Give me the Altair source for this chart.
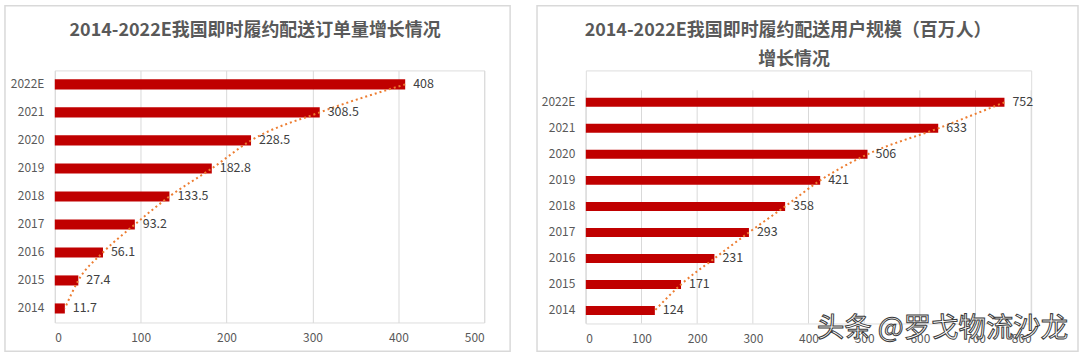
import altair as alt
import pandas as pd

years = ["2014", "2015", "2016", "2017", "2018", "2019", "2020", "2021", "2022E"]
orders = [11.7, 27.4, 56.1, 93.2, 133.5, 182.8, 228.5, 308.5, 408]
users = [124, 171, 231, 293, 358, 421, 506, 633, 752]
left_ticks = [0, 100, 200, 300, 400, 500]
right_ticks = [0, 100, 200, 300, 400, 500, 600, 700, 800]
title_left = ["2014-2022E我国即时履约配送订单量增长情况"]
title_right = ["2014-2022E我国即时履约配送用户规模（百万人）", "增长情况"]
watermark = "头条 @罗戈物流沙龙"

FONT = "Noto Sans CJK SC"
BAR = "#C00000"
TREND = "#ED7D31"
GRID = "#D9D9D9"
TEXT = "#595959"

one = pd.DataFrame({"k": [0]})


def title_marks(lines, positions):
    out = []
    for txt, (tx, ty) in zip(lines, positions):
        out.append(alt.Chart(one).mark_text(
            align="center", baseline="middle", fontSize=18, fontWeight="bold",
            font=FONT, color=TEXT
        ).encode(x=alt.value(tx), y=alt.value(ty), text=alt.value(txt)))
    return out


def panel(values, ticks, w, h, pin, pout, balign, titles, box, fmt, grid_top=None, extra=None):
    df = pd.DataFrame({"year": years, "value": values})
    ysc = alt.Scale(domain=list(reversed(years)), paddingInner=pin, paddingOuter=pout,
                    align=balign)
    xsc = alt.Scale(domain=[ticks[0], ticks[-1]], nice=False)
    base = alt.Chart(df).encode(
        y=alt.Y("year:N", scale=ysc, sort=None,
                axis=alt.Axis(title=None, ticks=False, domain=False, labelPadding=11,
                              labelFontSize=12, labelColor=TEXT, labelFont=FONT)),
        x=alt.X("value:Q", scale=xsc,
                axis=alt.Axis(title=None, ticks=False, domain=False,
                              grid=grid_top is None,
                              gridColor=GRID, values=ticks, labelPadding=10,
                              labelFontSize=12, labelColor=TEXT, labelFont=FONT)),
    )
    bars = base.mark_bar(color=BAR)
    line = base.mark_line(color=TREND, strokeDash=[2, 3], strokeWidth=2, interpolate="monotone")
    labels = base.mark_text(align="left", baseline="middle", dx=8, fontSize=12.5,
                            color="#404040", font=FONT).encode(
        text=alt.Text("value:Q", format=fmt))
    x0, x1, y0, y1 = box
    frame = alt.Chart(one).mark_rect(
        fillOpacity=0, stroke=GRID, strokeWidth=1.5
    ).encode(x=alt.value(x0), x2=alt.value(x1), y=alt.value(y0), y2=alt.value(y1))
    layers = [frame]
    if grid_top is not None:
        gdf = pd.DataFrame({"value": ticks})
        layers.append(alt.Chart(gdf).mark_rule(color=GRID, strokeWidth=1).encode(
            x=alt.X("value:Q", scale=xsc), y=alt.value(grid_top), y2=alt.value(h)))
    layers += [bars, line, labels] + titles
    if extra is not None:
        layers.append(extra)
    return alt.layer(*layers).properties(width=w, height=h)


wm = alt.Chart(one).mark_text(
    align="left", baseline="middle", fontSize=27.5, font=FONT, fill="white",
    stroke="#3a3a3a", strokeWidth=1
).encode(x=alt.value(232), y=alt.value(260), text=alt.value(watermark))

left = panel(orders, left_ticks, 431, 253, 0.64, 0.32, 0.5,
             title_marks(title_left, [(201, -40)]),
             (-50, 457, -65, 282), ".1~f")
right = panel(users, right_ticks, 447, 254, 0.655, 0.6915, 0.763,
              title_marks(title_right, [(203, -40), (209, -10)]),
              (-49, 494, -65, 282), "d", grid_top=20, extra=wm)

chart = alt.concat(left, right, columns=2, spacing=23, bounds="full").properties(
    padding={"left": 3, "top": 3, "right": 0, "bottom": 0},
    background="white",
).configure_view(stroke=None).configure(font=FONT)

chart.save("out.html", embed_options={"renderer": "svg", "actions": False})
